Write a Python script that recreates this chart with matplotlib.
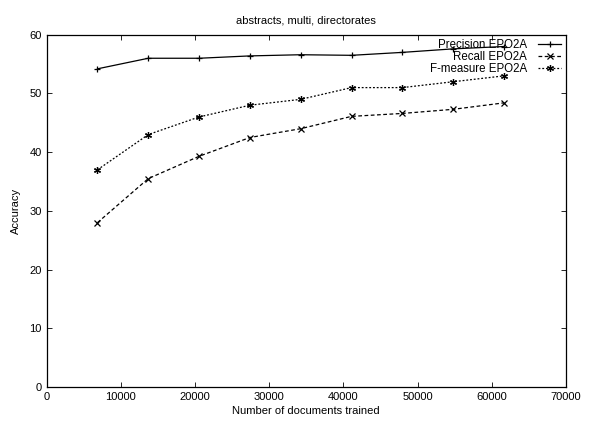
import matplotlib
matplotlib.use("Agg")
import matplotlib.pyplot as plt

# データ
docs = [6850, 13700, 20550, 27400, 34250, 41100, 47950, 54800, 61650]
precision = [54.2, 56.0, 56.0, 56.4, 56.6, 56.5, 57.0, 57.6, 58.0]
recall = [28.0, 35.5, 39.3, 42.5, 44.0, 46.1, 46.6, 47.3, 48.4]
fmeasure = [37.0, 43.0, 46.0, 48.0, 49.0, 51.0, 51.0, 52.0, 53.0]

xticks = [0, 10000, 20000, 30000, 40000, 50000, 60000, 70000]
yticks = [0, 10, 20, 30, 40, 50, 60]

plt.rcParams['font.family'] = ['Liberation Sans', 'DejaVu Sans']

fig = plt.figure(figsize=(6.03, 4.21), dpi=100)
ax = fig.add_axes([0.0774, 0.0808, 0.861, 0.8366])

ax.plot(docs, precision, color='black', lw=0.9, marker='+', ms=5, mew=0.9,
        label='Precision EPO2A')
ax.plot(docs, recall, color='black', lw=0.9, ls=(0, (3, 2)), marker='x', ms=4, mew=0.9,
        label='Recall EPO2A')
ax.plot(docs, fmeasure, color='black', lw=0.9, ls=(0, (1.5, 1.5)), marker=(6, 2, 0), ms=5, mew=0.9,
        label='F-measure EPO2A')

ax.set_xlim(0, 70000)
ax.set_ylim(0, 60)
ax.set_xticks(xticks)
ax.set_yticks(yticks)
ax.tick_params(direction='in', top=True, right=True, labelsize=8, length=3.5, width=0.6)
for s in ax.spines.values():
    s.set_linewidth(0.9)

ax.set_xlabel('Number of documents trained', fontsize=8, labelpad=3)
ax.set_ylabel('Accuracy', fontsize=8, labelpad=6)
ax.set_title('abstracts, multi, directorates', fontsize=8, pad=8)

leg = ax.legend(loc='upper right', frameon=False, markerfirst=False, fontsize=8.3,
                handlelength=2.0, labelspacing=0.0, borderaxespad=0.1,
                borderpad=0.3, handletextpad=1.0)
for t in leg.get_texts():
    t.set_ha('right')

fig.savefig('out.png', dpi=100)
